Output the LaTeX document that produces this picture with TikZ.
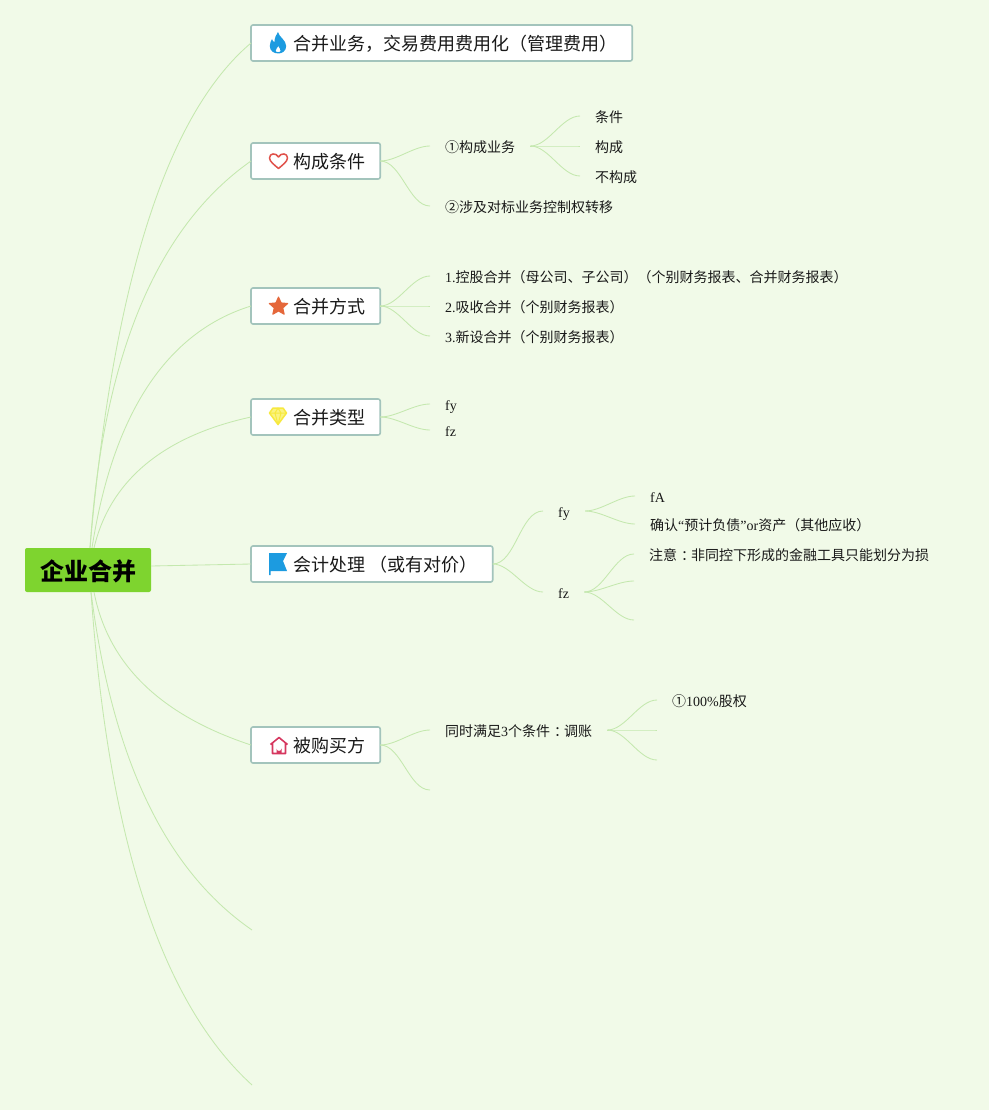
\documentclass[tikz,border=0pt]{standalone}
\usepackage{fontspec}
\setmainfont{Liberation Serif}
\newfontfamily\cj{Noto Sans CJK SC}
\definecolor{bgc}{HTML}{F1FAE8}
\definecolor{linec}{HTML}{C4E8AE}
\definecolor{boxc}{HTML}{A3C4BC}
\definecolor{rootc}{HTML}{7ED42F}
\tikzset{
  mainbox/.style={draw=boxc,line width=1.6pt,fill=white,rounded corners=2pt,anchor=west,outer sep=0pt,minimum height=36pt,inner xsep=15.2pt,inner ysep=0pt,font=\fontsize{18}{20}\selectfont,text height=16pt,text depth=1.5pt,text=black!90},
  rootbox/.style={fill=rootc,rounded corners=2pt,minimum width=126pt,minimum height=44pt,inner sep=0pt,font=\fontsize{24}{26}\selectfont,text=black,text height=21pt,text depth=0pt},
  leaf/.style={anchor=west,inner xsep=15pt,inner ysep=0pt,font=\fontsize{14}{16}\selectfont,text height=14pt,text depth=1pt,text=black!90},
  conn/.style={draw=linec,line width=0.85pt},
  sc/.style={out=0,in=180,looseness=0.8}
}
\newcommand{\gap}{\hspace*{26.8pt}}
\newcommand{\ccolon}{\hspace*{4pt}：\hspace*{-4pt}}
\begin{document}
\begin{tikzpicture}[x=1pt,y=-1pt]
\useasboundingbox (0,0) rectangle (989,1110);
\fill[bgc] (0,0) rectangle (989,1110);

% nodes
\node[rootbox] (root) at (88,570) {\cj\bfseries 企业合并};
\coordinate (rt) at (90,548);
\coordinate (rt2) at (92,548);
\coordinate (rt3) at (94,548);
\coordinate (rb) at (91,592);
\coordinate (rb2) at (94,592);
\coordinate (rr) at (151,566);

\node[mainbox] (b1) at (251,43) {\gap{\cj 合并业务，交易费用费用化（管理费用）}};
\node[mainbox] (b2) at (251,161) {\gap{\cj 构成条件}};
\node[mainbox] (b3) at (251,306) {\gap{\cj 合并方式}};
\node[mainbox] (b4) at (251,417) {\gap{\cj 合并类型}};
\node[mainbox] (b5) at (251,564) {\gap{\cj 会计处理} {\cj （或有对价）}};
\node[mainbox] (b6) at (251,745) {\gap{\cj 被购买方}};
\coordinate (b7) at (252,930);
\coordinate (b8) at (252,1085);

\node[leaf] (c21) at (430,146) {\cj ①构成业务};
\node[leaf] (c22) at (430,206) {\cj ②涉及对标业务控制权转移};
\node[leaf] (d1) at (580,116) {\cj 条件};
\node[leaf] (d2) at (580,146) {\cj 构成};
\node[leaf] (d3) at (580,176) {\cj 不构成};

\node[leaf] (c31) at (430,276) {1.{\cj 控股合并（母公司、子公司）（个别财务报表、合并财务报表）}};
\node[leaf] (c32) at (430,306) {2.{\cj 吸收合并（个别财务报表）}};
\node[leaf] (c33) at (430,336) {3.{\cj 新设合并（个别财务报表）}};

\node[leaf] (c41) at (430,404) {fy};
\node[leaf] (c42) at (430,430) {fz};

\node[leaf] (c51) at (543,511) {fy};
\node[leaf] (c52) at (543,592) {fz};
\node[leaf] (e1) at (635,496) {fA};
\node[leaf] (e2) at (635,524) {{\cj 确认}“{\cj 预计负债}”or{\cj 资产（其他应收）}};
\node[leaf] (e3) at (634,554) {\cj 注意\ccolon 非同控下形成的金融工具只能划分为损};
\coordinate (e4) at (634,581);
\coordinate (e5) at (634,620);

\node[leaf] (c61) at (430,730) {{\cj 同时满足}3{\cj 个条件\ccolon 调账}};
\coordinate (c62) at (430,790);
\node[leaf] (f1) at (657,700) {{\cj ①}100\%{\cj 股权}};
\coordinate (f2) at (657,730);
\coordinate (f3) at (657,760);

% connectors from the root
\draw[conn] (rt) .. controls (113,283) and (167,114) .. (b1.west);
\draw[conn] (rt) .. controls (103,355) and (157,227) .. (b2.west);
\draw[conn] (rt2) .. controls (113,413) and (167,332) .. (b3.west);
\draw[conn] (rt3) .. controls (110,480) and (164,436) .. (b4.west);
\draw[conn] (rr) -- (b5.west);
\draw[conn] (rb2) .. controls (108,664) and (160,715) .. (b6.west);
\draw[conn] (rb) .. controls (112,758) and (165,870) .. (b7);
\draw[conn] (rb) .. controls (108,838) and (161,1002) .. (b8);

\draw[conn] (b2.east) to[sc] (c21.west);
\draw[conn] (b2.east) to[sc] (c22.west);
\draw[conn] (c21.east) to[sc] (d1.west);
\draw[conn] (c21.east) to[sc] (d2.west);
\draw[conn] (c21.east) to[sc] (d3.west);
\draw[conn] (b3.east) to[sc] (c31.west);
\draw[conn] (b3.east) to[sc] (c32.west);
\draw[conn] (b3.east) to[sc] (c33.west);
\draw[conn] (b4.east) to[sc] (c41.west);
\draw[conn] (b4.east) to[sc] (c42.west);
\draw[conn] (b5.east) to[sc] (c51.west);
\draw[conn] (b5.east) to[sc] (c52.west);
\draw[conn] (c51.east) to[sc] (e1.west);
\draw[conn] (c51.east) to[sc] (e2.west);
\draw[conn] (c52.east) to[sc] (e3.west);
\draw[conn] (c52.east) to[sc] (e4);
\draw[conn] (c52.east) to[sc] (e5);
\draw[conn] (b6.east) to[sc] (c61.west);
\draw[conn] (b6.east) to[sc] (c62);
\draw[conn] (c61.east) to[sc] (f1.west);
\draw[conn] (c61.east) to[sc] (f2);
\draw[conn] (c61.east) to[sc] (f3);

% icons
\begin{scope}[shift={(278,43)}]
\fill[color={rgb,255:red,28;green,155;blue,224},even odd rule]
 (0,-11) .. controls (1,-6) and (8,-3) .. (8.2,3) .. controls (8.2,8) and (4,10.5) .. (0.5,10.5)
 .. controls (-4,10.5) and (-8.2,8) .. (-8.2,3) .. controls (-8.2,0) and (-7,-2) .. (-6,-4)
 .. controls (-5.5,-2) and (-4.5,-1) .. (-3.5,-1) .. controls (-3.5,-5) and (-2,-8) .. (0,-11) -- cycle
 (0.3,3) .. controls (1,5) and (3,6) .. (2.6,8) .. controls (2.2,9.5) and (-1.8,9.5) .. (-2.4,8)
 .. controls (-2.8,6.5) and (-0.5,5) .. (0.3,3) -- cycle;
\end{scope}
\begin{scope}[shift={(278.5,161)}]
\draw[color={rgb,255:red,224;green,81;blue,74},line width=1.5pt,line join=round]
 (0,7.5) .. controls (-4,4) and (-9,0.5) .. (-9,-3) .. controls (-9,-8) and (-2.5,-8.5) .. (0,-4)
 .. controls (2.5,-8.5) and (9,-8) .. (9,-3) .. controls (9,0.5) and (4,4) .. (0,7.5) -- cycle;
\end{scope}
\begin{scope}[shift={(278.5,306.5)}]
\path[fill={rgb,255:red,229;green,103;blue,58},draw={rgb,255:red,229;green,103;blue,58},line width=1pt,line join=round]
 (0,-9.5)--(2.6,-3.6)--(9.2,-3)--(4.3,1.4)--(5.7,7.8)--(0,4.5)--(-5.7,7.8)--(-4.3,1.4)--(-9.2,-3)--(-2.6,-3.6)--cycle;
\end{scope}
\begin{scope}[shift={(278,416)}]
\path[fill={rgb,255:red,250;green,243;blue,130},draw={rgb,255:red,247;green,233;blue,63},line width=1.5pt,line join=round]
 (-5,-8)--(5,-8)--(8.5,-3)--(0,8.5)--(-8.5,-3)--cycle;
\draw[color={rgb,255:red,247;green,233;blue,63},line width=1pt,line join=round]
 (-8.5,-3)--(8.5,-3) (-3,-3)--(0,8.5)--(3,-3) (-3,-3)--(0,-8)--(3,-3);
\end{scope}
\begin{scope}[shift={(278,564)}]
\fill[color={rgb,255:red,28;green,155;blue,224}]
 (-9,-11)--(9,-11)--(5,-3)--(9,7)--(-7.5,7)--(-7.5,11)--(-9,11)--cycle;
\end{scope}
\begin{scope}[shift={(279,745.5)}]
\draw[color={rgb,255:red,214;green,55;blue,95},line width=1.6pt,line join=round]
 (-8.5,-1)--(0,-8)--(8.5,-1) (-6.5,-2.5)--(-6.5,8)--(6.5,8)--(6.5,-2.5);
\fill[color={rgb,255:red,214;green,55;blue,95}] (-2.5,8)--(-2.5,3) arc[start angle=180,end angle=0,radius=2.5]--(2.5,8)--cycle;
\end{scope}
\end{tikzpicture}
\end{document}
